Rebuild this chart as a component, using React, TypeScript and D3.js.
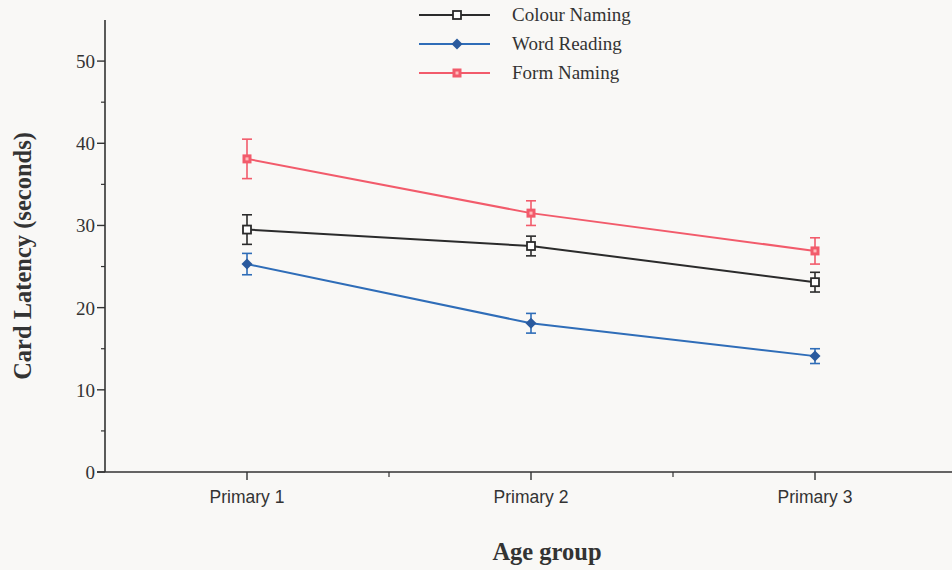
import React from "react";
import * as d3 from "d3";

const categories = ["Primary 1", "Primary 2", "Primary 3"];
const seriesNames = ["Colour Naming", "Word Reading", "Form Naming"];
const colourNaming = [29.5, 27.5, 23.1];
const colourNamingErr = [1.8, 1.2, 1.2];
const wordReading = [25.3, 18.1, 14.1];
const wordReadingErr = [1.3, 1.2, 0.9];
const formNaming = [38.1, 31.5, 26.9];
const formNamingErr = [2.4, 1.5, 1.6];
const yTicks = [0, 10, 20, 30, 40, 50];
const yMinorTicks = [5, 15, 25, 35, 45];

const W = 952;
const H = 570;

export default function App() {
  const x = d3.scaleLinear().domain([0.5, 3.5]).range([105, 957]);
  const y = d3.scaleLinear().domain([0, 55]).range([472, 20]);
  const colors = ["#2b2b2b", "#2f6db8", "#f25b6b"];
  const values = [colourNaming, wordReading, formNaming];
  const errs = [colourNamingErr, wordReadingErr, formNamingErr];
  const line = d3
    .line<number>()
    .x((_, i) => x(i + 1))
    .y((d) => y(d));
  const serif = "'Liberation Serif', 'DejaVu Serif', serif";
  const sans = "'Liberation Sans', Arial, sans-serif";

  const marker = (s: number, cx: number, cy: number) => {
    if (s === 0)
      return <rect x={cx - 4} y={cy - 4} width={8} height={8} fill="#fff" stroke={colors[0]} strokeWidth={1.8} />;
    if (s === 1)
      return <path d={`M${cx},${cy - 5.5}L${cx + 5.5},${cy}L${cx},${cy + 5.5}L${cx - 5.5},${cy}Z`} fill="#2a5a9e" />;
    return (
      <g>
        <rect x={cx - 4.5} y={cy - 4.5} width={9} height={9} fill={colors[2]} />
        <rect x={cx - 1.5} y={cy - 1.5} width={3} height={3} fill="#fbb" />
      </g>
    );
  };

  return (
    <svg width={W} height={H} style={{ position: "absolute", left: 0, top: 0, background: "#f9f8f6" }}>
      <rect width={W} height={H} fill="#f9f8f6" />
      {/* axes */}
      <line x1={x(0.5)} x2={x(0.5)} y1={y(55)} y2={y(0)} stroke="#333" strokeWidth={1.6} />
      <line x1={x(0.5) - 8} x2={W} y1={y(0)} y2={y(0)} stroke="#333" strokeWidth={1.6} />
      {yTicks.map((t) => (
        <g key={t}>
          <line x1={x(0.5) - 8} x2={x(0.5)} y1={y(t)} y2={y(t)} stroke="#333" strokeWidth={1.4} />
          <text x={x(0.5) - 10} y={y(t) + 7} textAnchor="end" fontFamily={serif} fontSize={19} fill="#333">
            {t}
          </text>
        </g>
      ))}
      {yMinorTicks.map((t) => (
        <line key={t} x1={x(0.5) - 4} x2={x(0.5)} y1={y(t)} y2={y(t)} stroke="#333" strokeWidth={1.2} />
      ))}
      {categories.map((c, i) => (
        <g key={c}>
          <line x1={x(i + 1)} x2={x(i + 1)} y1={y(0)} y2={y(0) + 8} stroke="#333" strokeWidth={1.4} />
          <text x={x(i + 1)} y={503} textAnchor="middle" fontFamily={sans} fontSize={17.5} fill="#333">
            {c}
          </text>
        </g>
      ))}
      {[1.5, 2.5].map((t) => (
        <line key={t} x1={x(t)} x2={x(t)} y1={y(0)} y2={y(0) + 5} stroke="#333" strokeWidth={1.2} />
      ))}
      <text x={547} y={560} textAnchor="middle" fontFamily={serif} fontWeight="bold" fontSize={24.5} fill="#333">
        Age group
      </text>
      <text
        transform={`translate(31,256) rotate(-90)`}
        textAnchor="middle"
        fontFamily={serif}
        fontWeight="bold"
        fontSize={24.5}
        fill="#333"
      >
        Card Latency (seconds)
      </text>
      {/* series */}
      {values.map((vals, s) => (
        <g key={s}>
          <path d={line(vals) || ""} fill="none" stroke={colors[s]} strokeWidth={2} />
          {vals.map((v, i) => {
            const cx = x(i + 1);
            const e = errs[s][i];
            return (
              <g key={i}>
                <line x1={cx} x2={cx} y1={y(v + e)} y2={y(v - e)} stroke={colors[s]} strokeWidth={1.6} />
                <line x1={cx - 5} x2={cx + 5} y1={y(v + e)} y2={y(v + e)} stroke={colors[s]} strokeWidth={1.6} />
                <line x1={cx - 5} x2={cx + 5} y1={y(v - e)} y2={y(v - e)} stroke={colors[s]} strokeWidth={1.6} />
                {marker(s, cx, y(v))}
              </g>
            );
          })}
        </g>
      ))}
      {/* legend */}
      {seriesNames.map((n, s) => {
        const ly = 15 + s * 29;
        return (
          <g key={n}>
            <line x1={419} x2={490} y1={ly} y2={ly} stroke={colors[s]} strokeWidth={2} />
            {marker(s, 457, ly)}
            <text x={512} y={ly + 6} fontFamily={serif} fontSize={19} fill="#333">
              {n}
            </text>
          </g>
        );
      })}
    </svg>
  );
}
